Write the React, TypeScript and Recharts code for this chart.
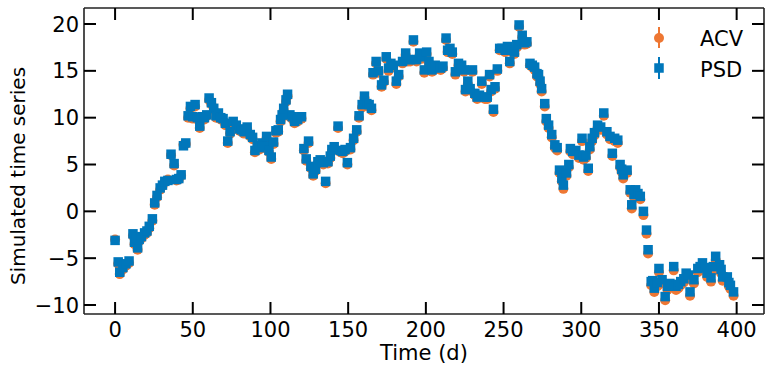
import React from "react";
import { ScatterChart, Scatter, XAxis, YAxis } from "recharts";

// time stamps (days) and the two simulated series
const times = [
  0, 2, 3, 5, 7, 9, 11.5, 12.5, 13.5, 14.5, 15.5, 17, 19, 20.5, 22, 24, 25.5, 27, 29, 30.5,
  32, 34, 36, 38, 39.5, 41, 42.5, 44, 45.5, 47, 48.5, 50, 51.5, 53, 54.5, 56, 57.5, 59, 60.5, 62,
  63.5, 65, 66.5, 68, 69.5, 71, 72.5, 74, 76, 78, 80, 81.5, 83, 85, 87, 88.5, 90, 91.5, 93, 94.5,
  96, 97.5, 99, 100.5, 102, 103.5, 105, 106.5, 107.5, 108.5, 110, 111, 112.5, 114, 115.5, 117.5, 120, 121.5, 123, 124.5,
  126, 127.5, 129, 130.5, 132, 134, 135.5, 137, 138.5, 139.5, 141, 143.5, 145, 146.5, 148, 149.5, 151.5, 153.5, 155.5, 157,
  159, 160.5, 162, 163.5, 165, 166, 168, 169.5, 171.5, 173, 174.5, 176, 177.5, 179, 181, 182.5, 185, 187, 188.5, 190,
  192, 194, 196, 197.5, 199, 200.5, 202, 204, 206, 208, 209.5, 211, 213, 214, 215.5, 217, 219, 221, 223, 224.5,
  225.5, 227, 228.5, 230, 231.5, 233, 234.5, 236, 238, 239.5, 241, 242, 243.5, 244.5, 246, 247.5, 249, 251, 252.5, 254,
  255.5, 257, 258.5, 260, 262, 263.5, 265, 267, 268.5, 270, 271.5, 272.5, 273.5, 274.5, 276.5, 277.5, 279, 281, 283, 284.5,
  286, 287.5, 288.5, 290.5, 292, 293, 294.5, 296.5, 298.5, 300.5, 301.5, 303, 304.5, 305.5, 307, 308.5, 310.5, 312.5, 314.5, 316.5,
  318.5, 320, 321.5, 323.5, 325, 326, 327, 329.5, 331.5, 332.5, 334, 335, 336.5, 338, 340, 342, 343, 345, 346, 347,
  349, 350, 352, 354, 355.5, 357, 359.5, 361, 362.5, 364, 366, 367.5, 369, 370, 372.5, 375, 376.5, 378, 380, 381,
  383.5, 385, 386.5, 389, 390, 391, 394, 395, 396, 398
];

const psd = [
  -3.1, -5.4, -6.5, -6.0, -5.6, -5.3, -2.4, -3.3, -2.8, -3.9, -3.0, -2.7, -2.3, -2.1, -1.6, -0.8, 0.9, 1.7, 2.5, 2.8,
  3.2, 3.3, 6.1, 5.1, 3.4, 3.5, 3.9, 7.0, 7.3, 10.2, 11.2, 10.1, 11.4, 10.0, 9.1, 10.1, 10.0, 10.3, 12.1, 11.6,
  11.0, 10.2, 10.5, 10.0, 9.9, 9.4, 7.5, 8.5, 9.6, 9.2, 8.8, 8.7, 8.5, 9.0, 8.2, 7.9, 6.5, 7.0, 6.8, 7.3,
  7.0, 8.0, 6.5, 5.8, 7.4, 8.6, 8.7, 9.8, 10.3, 11.0, 11.9, 12.5, 10.3, 10.1, 9.6, 9.8, 10.1, 6.7, 5.6, 7.5,
  4.8, 4.0, 4.5, 5.3, 5.5, 5.2, 3.2, 5.3, 5.9, 6.6, 6.9, 9.1, 6.5, 6.4, 6.6, 5.2, 6.8, 7.8, 8.7, 10.2,
  11.4, 12.3, 11.5, 11.4, 11.0, 14.8, 16.0, 15.0, 13.5, 14.0, 16.5, 15.3, 15.8, 15.6, 13.9, 14.6, 16.0, 16.9, 16.2, 16.2,
  18.3, 16.2, 16.9, 16.5, 15.1, 17.0, 16.0, 15.1, 15.6, 15.4, 15.3, 15.5, 18.5, 17.2, 17.4, 17.0, 14.9, 15.8, 15.6, 15.1,
  13.0, 13.9, 13.1, 15.1, 12.6, 12.2, 12.4, 13.9, 12.2, 12.2, 14.6, 13.0, 10.9, 13.3, 15.2, 17.4, 17.4, 17.2, 17.6, 16.0,
  17.2, 17.0, 17.8, 19.9, 18.8, 18.0, 18.1, 15.8, 15.6, 15.4, 14.7, 14.6, 13.9, 13.1, 11.5, 9.9, 9.2, 8.2, 7.1, 6.8,
  4.4, 3.5, 2.8, 4.1, 5.0, 6.7, 6.4, 6.5, 6.0, 7.8, 5.8, 6.0, 4.6, 6.9, 7.8, 8.4, 9.2, 9.0, 10.5, 8.5,
  8.0, 6.2, 7.8, 7.6, 5.0, 4.5, 3.9, 4.4, 2.3, 0.7, 1.8, 2.3, 1.9, 1.6, 0.0, -2.0, -4.1, -7.5, -7.4, -8.2,
  -7.6, -6.1, -7.3, -9.1, -8.0, -7.7, -5.9, -8.0, -7.8, -7.5, -7.2, -6.6, -6.8, -8.6, -7.3, -6.1, -5.9, -5.5, -6.0, -6.6,
  -7.1, -5.9, -4.8, -5.7, -6.2, -7.0, -7.0, -7.6, -7.9, -8.6
];

const acv = [
  -3.0, -5.6, -6.7, -6.2, -5.8, -5.5, -2.6, -3.5, -3.0, -4.1, -3.2, -2.9, -2.5, -2.3, -1.8, -1.0, 0.7, 1.5, 2.3, 2.7,
  3.1, 3.4, 6.0, 4.9, 3.3, 3.4, 3.8, 7.1, 7.2, 10.0, 11.0, 9.9, 11.2, 9.8, 8.9, 9.9, 9.8, 10.2, 11.9, 11.4,
  10.8, 10.0, 10.3, 9.8, 9.7, 9.2, 7.3, 8.3, 9.4, 9.0, 8.6, 8.5, 8.3, 8.8, 8.0, 7.7, 6.3, 6.8, 6.6, 7.1,
  6.8, 7.8, 6.3, 5.6, 7.2, 8.4, 8.5, 9.6, 10.1, 10.8, 11.7, 12.3, 10.1, 9.9, 9.4, 9.6, 9.9, 6.5, 5.4, 7.3,
  4.6, 3.8, 4.3, 5.1, 5.3, 5.0, 3.0, 5.1, 5.7, 6.4, 6.7, 8.9, 6.3, 6.2, 6.4, 5.0, 6.6, 7.6, 8.5, 10.0,
  11.1, 12.1, 11.3, 11.2, 10.8, 14.6, 15.8, 14.8, 13.3, 13.8, 16.3, 15.0, 15.6, 15.4, 13.6, 14.4, 15.8, 16.7, 16.0, 16.0,
  18.1, 16.0, 16.7, 16.3, 14.8, 16.8, 15.8, 14.9, 15.4, 15.2, 15.1, 15.3, 18.3, 17.0, 17.2, 16.8, 14.6, 15.6, 15.4, 14.9,
  12.8, 13.6, 12.9, 14.9, 12.4, 12.0, 12.2, 13.6, 12.0, 12.0, 14.4, 12.8, 10.6, 13.1, 15.0, 17.2, 17.2, 17.0, 17.4, 15.8,
  17.0, 16.8, 17.5, 19.7, 18.6, 17.8, 17.9, 15.6, 15.4, 15.1, 14.4, 14.3, 13.6, 12.8, 11.2, 9.6, 8.9, 7.9, 6.8, 6.5,
  4.1, 3.2, 2.4, 3.8, 4.7, 6.4, 6.1, 6.2, 5.7, 7.5, 5.5, 5.7, 4.3, 6.6, 7.5, 8.1, 8.9, 8.7, 10.2, 8.2,
  7.7, 5.9, 7.5, 7.3, 4.7, 4.2, 3.5, 4.1, 2.0, 0.3, 1.5, 2.0, 1.6, 1.3, -0.4, -2.4, -4.5, -7.9, -7.8, -8.6,
  -8.0, -6.5, -7.7, -9.5, -8.4, -8.1, -6.3, -8.4, -8.2, -7.9, -7.6, -7.0, -7.2, -9.0, -7.7, -6.5, -6.3, -5.8, -6.4, -7.0,
  -7.5, -6.3, -5.2, -6.1, -6.6, -7.4, -7.4, -8.0, -8.3, -9.0
];

const xTicks = [0, 50, 100, 150, 200, 250, 300, 350, 400];
const yTicks = [-10, -5, 0, 5, 10, 15, 20];

const ORANGE = "#EE7733";
const BLUE = "#0077BB";
const FONT = "DejaVu Sans, sans-serif";
const FS = 21;
const TICK_LEN = 12;

const acvData = times.map((t, i) => ({ t, v: acv[i] }));
const psdData = times.map((t, i) => ({ t, v: psd[i] }));

const fmt = (v: number) => String(v).replace("-", "\u2212");

const BottomTick = ({ x, y, payload }: any) => (
  <g>
    <line x1={x} x2={x} y1={y} y2={y - TICK_LEN} stroke="#000" strokeWidth={2} />
    <text x={x} y={y + 23} textAnchor="middle" fontSize={FS} fontFamily={FONT} fill="#000">
      {fmt(payload.value)}
    </text>
  </g>
);

const TopTick = ({ x, y }: any) => (
  <line x1={x} x2={x} y1={y} y2={y + TICK_LEN} stroke="#000" strokeWidth={2} />
);

const LeftTick = ({ x, y, payload }: any) => (
  <g>
    <line x1={x} x2={x + TICK_LEN} y1={y} y2={y} stroke="#000" strokeWidth={2} />
    <text x={x - 5} y={y + 7.5} textAnchor="end" fontSize={FS} fontFamily={FONT} fill="#000">
      {fmt(payload.value)}
    </text>
  </g>
);

const RightTick = ({ x, y }: any) => (
  <line x1={x} x2={x - TICK_LEN} y1={y} y2={y} stroke="#000" strokeWidth={2} />
);

const Dot = (props: any) => <circle cx={props.cx} cy={props.cy} r={5} fill={ORANGE} />;
const Sq = (props: any) => (
  <rect x={props.cx - 4.75} y={props.cy - 4.75} width={9.5} height={9.5} fill={BLUE} />
);

const xDomain = [-20, 417.6];
const yDomain = [-10.96, 21.71];
const axisLine = { stroke: "#222", strokeWidth: 1.6 };

export default function App() {
  return (
    <div style={{ position: "absolute", left: 0, top: 0, width: 775, height: 374, background: "#fff" }}>
      <ScatterChart width={775} height={374} margin={{ top: 7, right: 10, bottom: 0, left: 0 }}>
        <XAxis
          xAxisId={0}
          dataKey="t"
          type="number"
          domain={xDomain}
          allowDataOverflow
          ticks={xTicks}
          interval={0}
          height={60}
          tickSize={0}
          tickMargin={0}
          tickLine={false}
          axisLine={axisLine}
          tick={BottomTick}
        />
        <XAxis
          xAxisId="top"
          orientation="top"
          dataKey="t"
          type="number"
          domain={xDomain}
          allowDataOverflow
          ticks={xTicks}
          interval={0}
          height={1}
          tickSize={0}
          tickMargin={0}
          tickLine={false}
          axisLine={axisLine}
          tick={TopTick}
        />
        <YAxis
          yAxisId={0}
          dataKey="v"
          type="number"
          domain={yDomain}
          allowDataOverflow
          ticks={yTicks}
          interval={0}
          width={84}
          tickSize={0}
          tickMargin={0}
          tickLine={false}
          axisLine={axisLine}
          tick={LeftTick}
        />
        <YAxis
          yAxisId="right"
          orientation="right"
          dataKey="v"
          type="number"
          domain={yDomain}
          allowDataOverflow
          ticks={yTicks}
          interval={0}
          width={1}
          tickSize={0}
          tickMargin={0}
          tickLine={false}
          axisLine={axisLine}
          tick={RightTick}
        />
        <Scatter
          name="hidden"
          xAxisId="top"
          yAxisId="right"
          data={psdData}
          shape={() => <g />}
          isAnimationActive={false}
        />
        <Scatter name="ACV" data={acvData} shape={Dot} isAnimationActive={false} />
        <Scatter name="PSD" data={psdData} shape={Sq} isAnimationActive={false} />
      </ScatterChart>
      <svg
        width={775}
        height={374}
        style={{ position: "absolute", left: 0, top: 0, pointerEvents: "none" }}
      >
        <text x={424} y={360} textAnchor="middle" fontSize={FS} fontFamily={FONT} fill="#000">
          Time (d)
        </text>
        <text
          transform="translate(25,176) rotate(-90)"
          textAnchor="middle"
          fontSize={20}
          fontFamily={FONT}
          fill="#000"
        >
          Simulated time series
        </text>
        <line x1={659} x2={659} y1={27} y2={48} stroke={ORANGE} strokeWidth={2} />
        <circle cx={659} cy={38} r={5} fill={ORANGE} />
        <text x={700} y={46} fontSize={FS} fontFamily={FONT} fill="#000">ACV</text>
        <line x1={659} x2={659} y1={57} y2={79} stroke={BLUE} strokeWidth={2} />
        <rect x={654.25} y={63.25} width={9.5} height={9.5} fill={BLUE} />
        <text x={700} y={77} fontSize={FS} fontFamily={FONT} fill="#000">PSD</text>
      </svg>
    </div>
  );
}
